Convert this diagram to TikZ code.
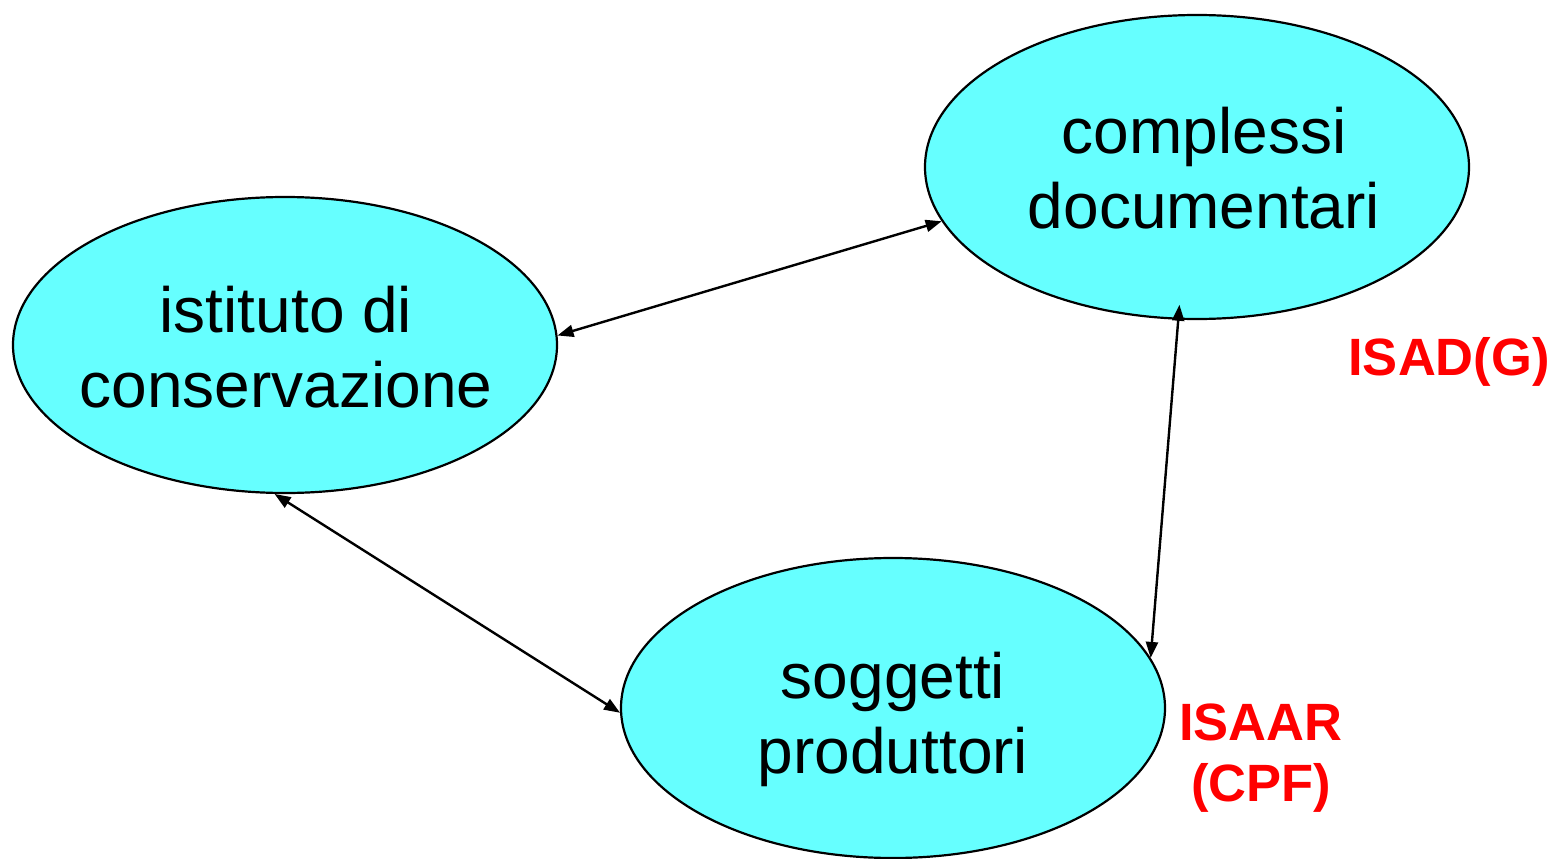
\documentclass[tikz,border=0pt]{standalone}
\usepackage{fontspec}
\setmainfont{Liberation Sans}
\usetikzlibrary{shapes.geometric,arrows.meta}
\definecolor{cyanfill}{HTML}{66FFFF}
\definecolor{labred}{HTML}{FF0000}
\begin{document}
\begin{tikzpicture}[x=1pt,y=-1pt,
  blob/.style={ellipse,draw=black,line width=2.2pt,fill=cyanfill,inner sep=0pt,minimum width=544pt},
  blobtext/.style={align=center,font=\fontsize{64}{75}\selectfont,inner sep=0pt},
  arr/.style={line width=2.4pt,{Triangle[length=16pt,width=12pt]}-{Triangle[length=16pt,width=12pt]}},
  std/.style={text=labred,font=\fontsize{52.5}{61}\selectfont\bfseries,align=center,inner sep=0pt}]
\useasboundingbox (0,0) rectangle (1553,859);
\node[blob,minimum height=296pt] (ist) at (285,345) {};
\node[blob,minimum height=304pt] (com) at (1197,167) {};
\node[blob,minimum height=300pt] (sog) at (893,708) {};
\node[blobtext] (istT) at (286,347.5) {istituto di\\conservazione};
\node[blobtext] (comT) at (1204,168.5) {complessi\\documentari};
\node[blobtext] (sogT) at (893,719) {soggetti\\produttori};
\draw[arr] (ist.2.5) -- (com.192.1);
\draw[arr] (ist.-94.6) -- (sog.181.7);
\draw[arr,shorten <=-15pt] (com.263.7) -- (sog.11.9);
\node[std,anchor=base] (isad) at (1449,375) {ISAD(G)};
\node[std] (isaar) at (1261,758.5) {ISAAR\\(CPF)};
\end{tikzpicture}
\end{document}
